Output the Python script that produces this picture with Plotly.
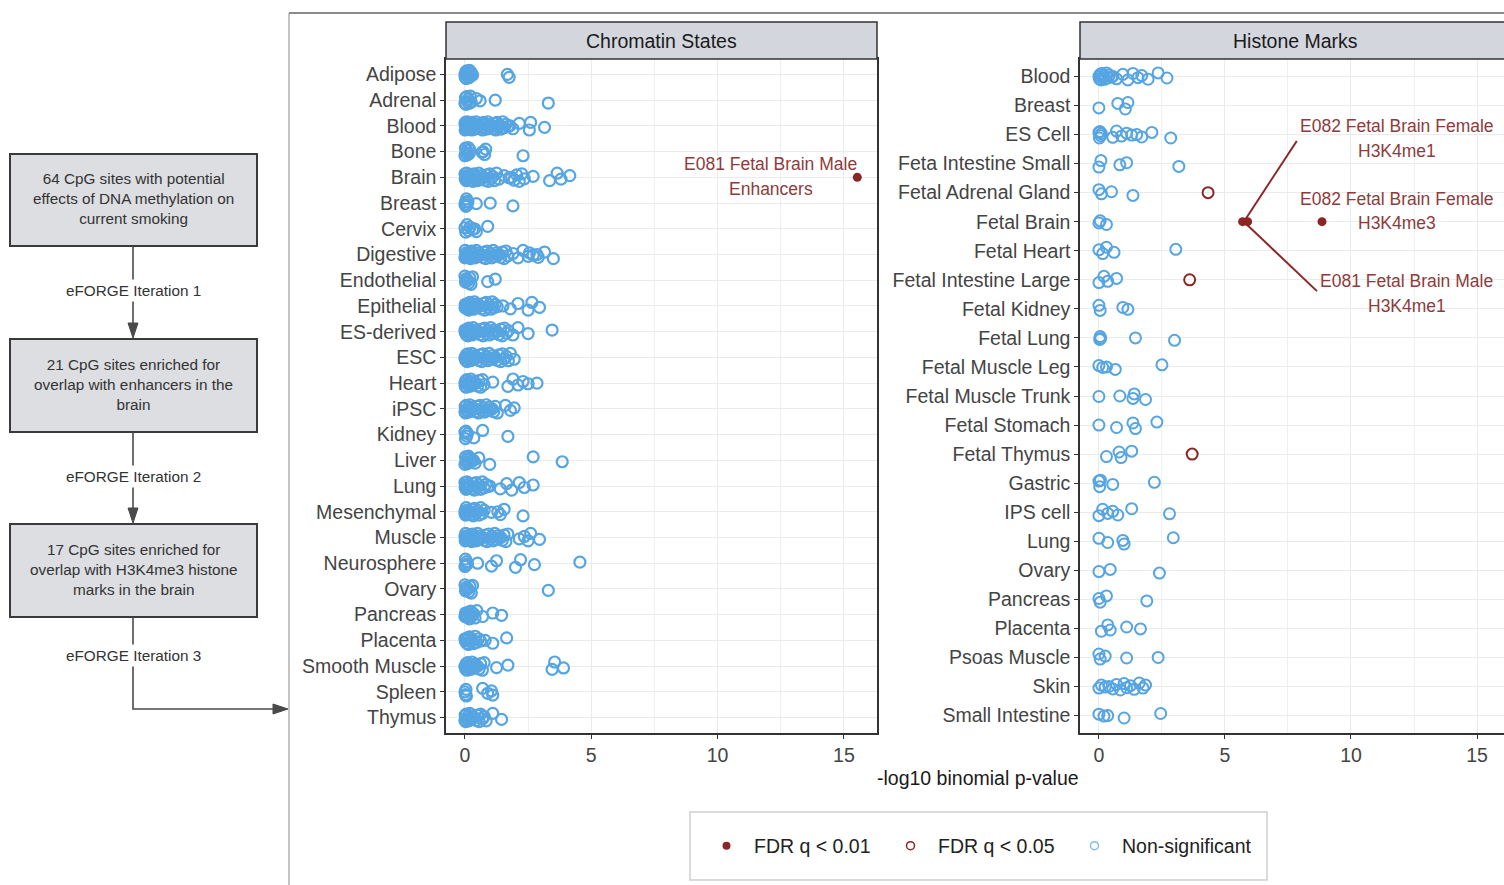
import plotly.graph_objects as go

W, H = 1504, 885
def px(x): return x / W
def py(y): return 1 - y / H

FONT = "Liberation Sans, Arial, sans-serif"
BLUE = "#56a5e2"
RED = "#8b2626"
RED_TXT = "#8e3b3b"

# ---------------- data ----------------
chrom_tissues = ["Adipose", "Adrenal", "Blood", "Bone", "Brain", "Breast", "Cervix", "Digestive",
                 "Endothelial", "Epithelial", "ES-derived", "ESC", "Heart", "iPSC", "Kidney", "Liver",
                 "Lung", "Mesenchymal", "Muscle", "Neurosphere", "Ovary", "Pancreas", "Placenta",
                 "Smooth Muscle", "Spleen", "Thymus"]

adipose = [0.0, 0.01, 0.03, 0.05, 0.07, 0.09, 0.12, 0.15, 0.18, 0.21, 0.25, 0.3, 1.68, 1.75]
adrenal = [0.0, 0.02, 0.04, 0.07, 0.1, 0.13, 0.17, 0.21, 0.25, 0.45, 0.6, 1.2, 3.3]
blood = [0.0, 0.01, 0.02, 0.04, 0.05, 0.07, 0.09, 0.11, 0.13, 0.16, 0.18, 0.21, 0.24, 0.27, 0.3,
         0.33, 0.37, 0.4, 0.44, 0.47, 0.51, 0.55, 0.58, 0.62, 0.66, 0.7, 0.74, 0.78, 0.82, 0.86,
         0.9, 0.95, 0.99, 1.03, 1.08, 1.12, 1.17, 1.22, 1.27, 1.32, 1.37, 1.43, 1.49, 1.55, 1.62,
         1.7, 1.78, 1.9, 2.15, 2.55, 2.6, 3.15]
bone = [0.0, 0.02, 0.04, 0.07, 0.1, 0.13, 0.17, 0.2, 0.68, 0.72, 0.78, 0.82, 2.3]
brain = [0.0, 0.01, 0.03, 0.05, 0.07, 0.1, 0.13, 0.16, 0.2, 0.24, 0.28, 0.32, 0.36, 0.4, 0.45,
         0.5, 0.55, 0.6, 0.65, 0.7, 0.75, 0.8, 0.86, 0.92, 0.98, 1.04, 1.1, 1.17, 1.25, 1.35,
         1.55, 1.75, 1.85, 1.95, 2.05, 2.15, 2.25, 2.35, 2.7, 3.35, 3.65, 3.8, 4.15]
breast = [0.0, 0.02, 0.04, 0.06, 0.09, 0.12, 0.45, 1.0, 1.9]
cervix = [0.0, 0.03, 0.08, 0.14, 0.2, 0.3, 0.38, 0.45, 0.9]
digestive = [0.0, 0.01, 0.03, 0.05, 0.08, 0.11, 0.14, 0.18, 0.22, 0.26, 0.3, 0.35, 0.4, 0.45,
             0.5, 0.55, 0.6, 0.65, 0.7, 0.76, 0.82, 0.88, 0.94, 1.0, 1.06, 1.12, 1.18, 1.24,
             1.3, 1.36, 1.42, 1.48, 1.55, 1.62, 1.7, 1.9, 2.1, 2.3, 2.5, 2.55, 2.7, 2.85, 2.9,
             3.15, 3.5]
endothelial = [0.0, 0.02, 0.05, 0.08, 0.11, 0.15, 0.19, 0.24, 0.3, 0.9, 1.2]
epithelial = [0.0, 0.01, 0.03, 0.05, 0.08, 0.11, 0.15, 0.19, 0.23, 0.28, 0.33, 0.38, 0.43, 0.48,
              0.54, 0.6, 0.66, 0.72, 0.78, 0.84, 0.9, 0.96, 1.02, 1.08, 1.14, 1.2, 1.28, 1.5,
              1.8, 2.1, 2.5, 2.65, 2.95]
es_derived = [0.0, 0.01, 0.03, 0.05, 0.08, 0.11, 0.15, 0.19, 0.23, 0.28, 0.33, 0.38, 0.43, 0.48,
              0.54, 0.6, 0.66, 0.72, 0.78, 0.84, 0.9, 0.96, 1.02, 1.08, 1.14, 1.2, 1.27, 1.34,
              1.41, 1.48, 1.56, 1.64, 1.72, 1.9, 2.1, 2.5, 3.45]
esc = [0.0, 0.01, 0.03, 0.05, 0.08, 0.11, 0.15, 0.19, 0.23, 0.28, 0.33, 0.38, 0.43, 0.48, 0.54,
       0.6, 0.66, 0.72, 0.78, 0.84, 0.9, 0.96, 1.02, 1.08, 1.14, 1.2, 1.27, 1.34, 1.41, 1.48,
       1.56, 1.64, 1.72, 1.8, 1.95]
heart = [0.0, 0.01, 0.03, 0.05, 0.08, 0.11, 0.15, 0.19, 0.23, 0.28, 0.33, 0.38, 0.44, 0.5, 0.56,
         0.62, 0.69, 0.76, 1.1, 1.7, 1.9, 2.1, 2.3, 2.5, 2.85]
ipsc = [0.0, 0.01, 0.03, 0.05, 0.08, 0.11, 0.15, 0.19, 0.23, 0.28, 0.33, 0.38, 0.43, 0.48, 0.54,
        0.6, 0.66, 0.72, 0.78, 0.84, 0.9, 0.96, 1.02, 1.08, 1.14, 1.2, 1.28, 1.6, 1.8, 1.95]
kidney = [0.0, 0.02, 0.04, 0.07, 0.1, 0.35, 0.7, 1.7]
liver = [0.0, 0.02, 0.04, 0.07, 0.1, 0.14, 0.18, 0.23, 0.28, 0.34, 0.4, 0.55, 0.98, 2.7, 3.85]
lung = [0.0, 0.01, 0.03, 0.05, 0.08, 0.11, 0.15, 0.19, 0.23, 0.28, 0.33, 0.38, 0.44, 0.5, 0.56,
        0.62, 0.69, 0.76, 0.83, 0.9, 0.98, 1.4, 1.65, 1.85, 2.15, 2.35, 2.7]
mesenchymal = [0.0, 0.01, 0.03, 0.05, 0.08, 0.11, 0.15, 0.19, 0.23, 0.28, 0.33, 0.38, 0.44, 0.5,
               0.56, 0.62, 0.69, 0.76, 1.05, 1.3, 1.4, 1.55, 2.3]
muscle = [0.0, 0.01, 0.03, 0.05, 0.08, 0.11, 0.14, 0.18, 0.22, 0.26, 0.3, 0.35, 0.4, 0.45, 0.5,
          0.55, 0.6, 0.65, 0.7, 0.76, 0.82, 0.88, 0.94, 1.0, 1.06, 1.12, 1.18, 1.24, 1.3, 1.36,
          1.42, 1.48, 1.55, 1.62, 1.7, 2.15, 2.35, 2.5, 2.6, 2.95]
neurosphere = [0.0, 0.02, 0.04, 0.07, 0.1, 0.5, 1.05, 1.25, 2.0, 2.2, 2.75, 4.55]
ovary = [0.0, 0.02, 0.05, 0.08, 0.12, 0.16, 0.2, 0.25, 0.3, 3.3]
pancreas = [0.0, 0.02, 0.04, 0.07, 0.1, 0.14, 0.18, 0.23, 0.28, 0.34, 0.4, 0.47, 0.7, 1.1, 1.45]
placenta = [0.0, 0.02, 0.04, 0.07, 0.1, 0.14, 0.18, 0.23, 0.28, 0.34, 0.4, 0.47, 0.54, 0.62,
            0.8, 1.1, 1.65]
smooth_muscle = [0.0, 0.01, 0.03, 0.05, 0.08, 0.11, 0.15, 0.19, 0.23, 0.28, 0.33, 0.38, 0.44,
                 0.5, 0.56, 0.62, 0.69, 0.76, 1.25, 1.7, 3.45, 3.55, 3.9]
spleen = [0.0, 0.02, 0.04, 0.06, 0.7, 0.9, 1.05, 1.1]
thymus = [0.0, 0.01, 0.03, 0.05, 0.08, 0.11, 0.15, 0.19, 0.23, 0.28, 0.33, 0.38, 0.44, 0.5,
          0.56, 0.62, 0.69, 0.76, 0.84, 1.1, 1.45]

chrom_values = [adipose, adrenal, blood, bone, brain, breast, cervix, digestive, endothelial,
                epithelial, es_derived, esc, heart, ipsc, kidney, liver, lung, mesenchymal,
                muscle, neurosphere, ovary, pancreas, placenta, smooth_muscle, spleen, thymus]

chrom_q01_tissue = ["Brain"]
chrom_q01_value = [15.53]

hist_tissues = ["Blood", "Breast", "ES Cell", "Feta Intestine Small", "Fetal Adrenal Gland",
                "Fetal Brain", "Fetal Heart", "Fetal Intestine Large", "Fetal Kidney", "Fetal Lung",
                "Fetal Muscle Leg", "Fetal Muscle Trunk", "Fetal Stomach", "Fetal Thymus", "Gastric",
                "IPS cell", "Lung", "Ovary", "Pancreas", "Placenta", "Psoas Muscle", "Skin",
                "Small Intestine"]

hist_values = [
    [0.0, 0.02, 0.05, 0.08, 0.11, 0.15, 0.19, 0.24, 0.3, 0.36, 0.42, 0.5, 0.55, 0.7, 0.95, 1.15,
     1.35, 1.55, 1.7, 1.95, 2.35, 2.7],
    [0.0, 0.75, 1.05, 1.15],
    [0.0, 0.02, 0.04, 0.07, 0.1, 0.55, 0.7, 0.9, 1.1, 1.3, 1.5, 1.7, 2.1, 2.85],
    [0.0, 0.08, 0.83, 1.1, 3.17],
    [0.0, 0.1, 0.5, 1.35],
    [0.0, 0.05, 0.3],
    [0.0, 0.15, 0.3, 0.6, 3.05],
    [0.0, 0.2, 0.35, 0.7],
    [0.0, 0.05, 0.95, 1.15],
    [0.03, 0.05, 0.07, 1.45, 3.0],
    [0.0, 0.15, 0.3, 0.65, 2.5],
    [0.0, 0.83, 1.35, 1.4, 1.85],
    [0.0, 0.7, 1.35, 1.45, 2.3],
    [0.3, 0.8, 0.88, 1.3],
    [0.0, 0.03, 0.06, 0.55, 2.2],
    [0.0, 0.15, 0.35, 0.55, 0.75, 1.3, 2.8],
    [0.0, 0.35, 0.95, 1.0, 2.95],
    [0.0, 0.45, 2.4],
    [0.0, 0.05, 0.3, 1.9],
    [0.1, 0.35, 0.45, 1.1, 1.65],
    [0.0, 0.05, 0.25, 1.1, 2.35],
    [0.0, 0.1, 0.25, 0.4, 0.55, 0.7, 0.85, 1.0, 1.1, 1.25, 1.4, 1.6, 1.75, 1.85],
    [0.0, 0.2, 0.35, 1.0, 2.45],
]

hist_q01_tissue = ["Fetal Brain", "Fetal Brain", "Fetal Brain"]
hist_q01_value = [5.7, 5.9, 8.85]
hist_q05_tissue = ["Fetal Adrenal Gland", "Fetal Intestine Large", "Fetal Thymus"]
hist_q05_value = [4.33, 3.6, 3.7]

x_ticks = [0, 5, 10, 15]
legend_labels = ["FDR q < 0.01", "FDR q < 0.05", "Non-significant"]

# small vertical jitter pattern (style only)
JIT = [0.0, 0.7, -0.6, 1.0, -0.85, 0.35, -0.25, 0.8, -1.0, 0.45, -0.4, 0.15]


def jittered(tissues, values, amp):
    xs, ys = [], []
    for i, (t, vals) in enumerate(zip(tissues, values)):
        for k, v in enumerate(vals):
            xs.append(v)
            ys.append(i + amp * JIT[(k + i) % len(JIT)])
    return xs, ys


fig = go.Figure()

open_blue = dict(symbol="circle-open", size=11, color=BLUE, line=dict(width=2.2))
cx, cy = jittered(chrom_tissues, chrom_values, 0.16)
fig.add_trace(go.Scatter(x=cx, y=cy, mode="markers", xaxis="x", yaxis="y", showlegend=False,
                         marker=open_blue))
fig.add_trace(go.Scatter(x=chrom_q01_value, y=[chrom_tissues.index(t) for t in chrom_q01_tissue],
                         mode="markers", xaxis="x", yaxis="y", showlegend=False,
                         marker=dict(symbol="circle", size=9, color=RED)))

hx, hy = jittered(hist_tissues, hist_values, 0.12)
fig.add_trace(go.Scatter(x=hx, y=hy, mode="markers", xaxis="x2", yaxis="y2", showlegend=False,
                         marker=dict(symbol="circle-open", size=11, color=BLUE, line=dict(width=2))))
fig.add_trace(go.Scatter(x=hist_q05_value, y=[hist_tissues.index(t) for t in hist_q05_tissue],
                         mode="markers", xaxis="x2", yaxis="y2", showlegend=False,
                         marker=dict(symbol="circle-open", size=11, color=RED, line=dict(width=2))))
fig.add_trace(go.Scatter(x=hist_q01_value, y=[hist_tissues.index(t) for t in hist_q01_tissue],
                         mode="markers", xaxis="x2", yaxis="y2", showlegend=False,
                         marker=dict(symbol="circle", size=9, color=RED)))

# legend entries
leg_styles = [dict(symbol="circle", size=8, color=RED),
              dict(symbol="circle-open", size=8, color=RED, line=dict(width=1.5)),
              dict(symbol="circle-open", size=8, color="#7fc0e6", line=dict(width=1.5))]
for lab, st in zip(legend_labels, leg_styles):
    fig.add_trace(go.Scatter(x=[None], y=[None], mode="markers", name=lab, marker=st,
                             xaxis="x", yaxis="y"))

axis_common = dict(showgrid=True, gridcolor="#ebebeb", gridwidth=1.2, zeroline=False,
                   showline=True, linecolor="#333333", linewidth=1.5,
                   ticks="outside", ticklen=4, tickwidth=1.2, tickcolor="#333333")

xr1 = [-0.75, 16.31]
xr2 = [-0.75, 16.07]
n1, n2 = len(chrom_tissues), len(hist_tissues)
yfont = dict(family=FONT, size=19.5, color="#444444")
xfont = dict(family=FONT, size=19.5, color="#444444")

fig.update_layout(
    width=W, height=H, margin=dict(l=0, r=0, t=0, b=0),
    paper_bgcolor="white", plot_bgcolor="white",
    xaxis=dict(domain=[px(446), px(877)], range=xr1, tickvals=x_ticks, anchor="y", tickfont=xfont,
               minor=dict(tickvals=[2.5, 7.5, 12.5], showgrid=True, gridcolor="#efefef", gridwidth=1, ticks=""),
               mirror=True, **axis_common),
    yaxis=dict(domain=[py(733), py(59)], range=[n1 - 1 + 0.6, -0.6], tickvals=list(range(n1)),
               ticktext=chrom_tissues, anchor="x", mirror=True, tickfont=yfont, **axis_common),
    xaxis2=dict(domain=[px(1080), 1.0], range=xr2, tickvals=x_ticks, anchor="y2", tickfont=xfont,
                minor=dict(tickvals=[2.5, 7.5, 12.5], showgrid=True, gridcolor="#efefef", gridwidth=1, ticks=""),
                mirror=True, **axis_common),
    yaxis2=dict(domain=[py(733), py(59)], range=[n2 - 1 + 0.6, -0.6], tickvals=list(range(n2)),
                ticktext=hist_tissues, anchor="x2", mirror=False, tickfont=yfont, **axis_common),
    showlegend=True,
    legend=dict(orientation="h", x=px(699), y=py(846), xanchor="left", yanchor="middle",
                bgcolor="rgba(0,0,0,0)", borderwidth=0, itemwidth=45,
                entrywidth=124, entrywidthmode="pixels",
                font=dict(family=FONT, size=19.5, color="#222222")),
)

shapes = []
annos = []

# strip headers
for x0, x1, label, cxp in [(446, 877, "Chromatin States", 661.5), (1080, 1520, "Histone Marks", 1295)]:
    shapes.append(dict(type="rect", xref="paper", yref="paper", x0=px(x0), x1=px(x1), y0=py(59), y1=py(22),
                       fillcolor="#d3d7dd", line=dict(color="#333333", width=1.5), layer="above"))
    annos.append(dict(xref="paper", yref="paper", x=px(cxp), y=py(40.5), text=label, showarrow=False,
                      font=dict(family=FONT, size=19.5, color="#1a1a1a"), xanchor="center", yanchor="middle"))

# axis title
annos.append(dict(xref="paper", yref="paper", x=px(978), y=py(778), text="-log10 binomial p-value",
                  showarrow=False, font=dict(family=FONT, size=19.5, color="#1a1a1a"),
                  xanchor="center", yanchor="middle"))

# legend box
shapes.append(dict(type="rect", xref="paper", yref="paper", x0=px(690), x1=px(1267), y0=py(880), y1=py(812),
                   line=dict(color="#cfcfcf", width=1.5), fillcolor="rgba(0,0,0,0)"))

# chromatin label
annos.append(dict(xref="x", yref="y", x=12.1, y=3.48, text="E081 Fetal Brain Male", showarrow=False,
                  font=dict(family=FONT, size=17.5, color=RED_TXT)))
annos.append(dict(xref="x", yref="y", x=12.1, y=4.45, text="Enhancers", showarrow=False,
                  font=dict(family=FONT, size=17.5, color=RED_TXT)))

# histone labels
hist_label_lines = [("E082 Fetal Brain Female", 11.83, 1.7), ("H3K4me1", 11.83, 2.57),
                    ("E082 Fetal Brain Female", 11.83, 4.23), ("H3K4me3", 11.83, 5.05),
                    ("E081 Fetal Brain Male", 12.22, 7.05), ("H3K4me1", 12.22, 7.9)]
for t, x, y in hist_label_lines:
    annos.append(dict(xref="x2", yref="y2", x=x, y=y, text=t, showarrow=False,
                      font=dict(family=FONT, size=17.5, color=RED_TXT)))
# leader lines
for x1, y1 in [(7.85, 2.22), (8.65, 7.39)]:
    shapes.append(dict(type="line", xref="x2", yref="y2", x0=5.75, y0=5.0, x1=x1, y1=y1,
                       line=dict(color=RED, width=2)))

# separators
shapes.append(dict(type="line", xref="paper", yref="paper", x0=px(289), x1=px(289), y0=py(13), y1=py(885),
                   line=dict(color="#b0b0b0", width=1.5)))
shapes.append(dict(type="line", xref="paper", yref="paper", x0=px(289), x1=1.0, y0=py(13), y1=py(13),
                   line=dict(color="#8a8a8a", width=2)))

# flowchart
boxes = [(154, 246, "64 CpG sites with potential<br>effects of DNA methylation on<br>current smoking"),
         (339, 432, "21 CpG sites enriched for<br>overlap with enhancers in the<br>brain"),
         (524, 617, "17 CpG sites enriched for<br>overlap with H3K4me3 histone<br>marks in the brain")]
for y0, y1, t in boxes:
    shapes.append(dict(type="rect", xref="paper", yref="paper", x0=px(10), x1=px(257), y0=py(y1), y1=py(y0),
                       fillcolor="#dcdee2", line=dict(color="#3a3a3a", width=2)))
    annos.append(dict(xref="paper", yref="paper", x=px(133.5), y=py((y0 + y1) / 2 - 1.5), text=t,
                      showarrow=False, font=dict(family=FONT, size=15.3, color="#333333"),
                      xanchor="center", yanchor="middle"))

LC = "#4a4a4a"
for ya, yb in [(246, 325), (432, 510)]:
    shapes.append(dict(type="line", xref="paper", yref="paper", x0=px(133), x1=px(133), y0=py(ya), y1=py(yb),
                       line=dict(color=LC, width=1.6)))
    shapes.append(dict(type="path", xref="paper", yref="paper",
                       path=f"M {px(128)} {py(yb - 2)} L {px(138)} {py(yb - 2)} L {px(133)} {py(yb + 13)} Z",
                       fillcolor=LC, line=dict(color=LC, width=1)))
shapes.append(dict(type="path", xref="paper", yref="paper",
                   path=f"M {px(133)} {py(617)} L {px(133)} {py(709)} L {px(275)} {py(709)}",
                   line=dict(color=LC, width=1.6)))
shapes.append(dict(type="path", xref="paper", yref="paper",
                   path=f"M {px(273)} {py(704)} L {px(273)} {py(714)} L {px(288)} {py(709)} Z",
                   fillcolor=LC, line=dict(color=LC, width=1)))
for yl, n in [(291, 1), (476, 2), (655, 3)]:
    annos.append(dict(xref="paper", yref="paper", x=px(133.5), y=py(yl), text=f"eFORGE Iteration {n}",
                      showarrow=False, bgcolor="white", borderpad=2,
                      font=dict(family=FONT, size=15.3, color="#333333"), xanchor="center", yanchor="middle"))

fig.update_layout(shapes=shapes, annotations=annos)

fig.write_html("out.html", config={"displayModeBar": False},
               post_script="document.body.style.margin='0';")
